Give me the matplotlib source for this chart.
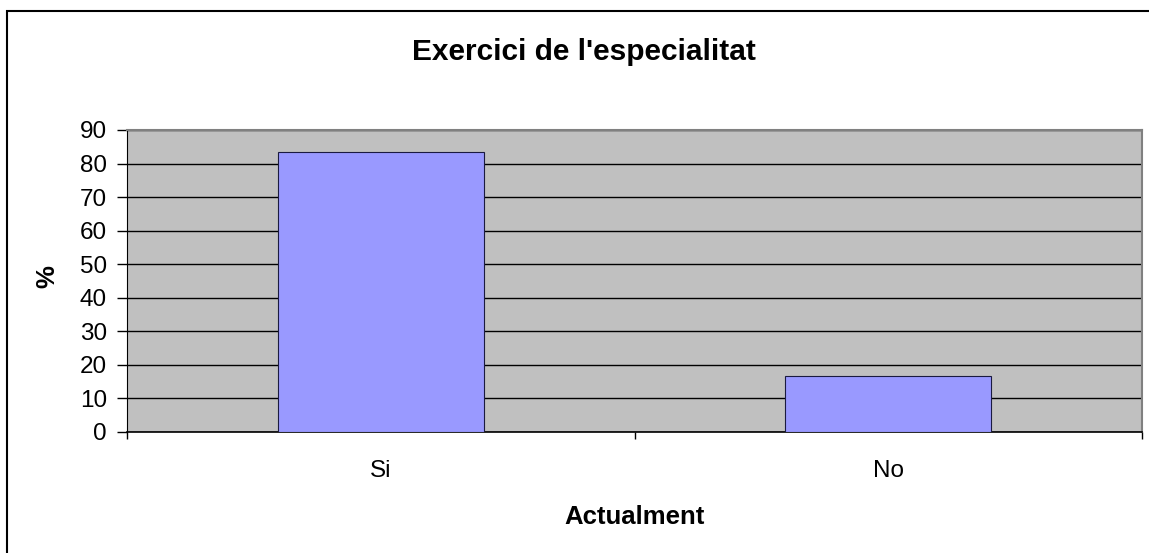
import matplotlib
matplotlib.use("Agg")
import matplotlib.pyplot as plt
from matplotlib.patches import Rectangle

categories = ["Si", "No"]
values = [83.3, 16.7]
yticks = [0, 10, 20, 30, 40, 50, 60, 70, 80, 90]

plt.rcParams['font.family'] = ['Liberation Sans', 'DejaVu Sans']

W, H = 1149, 553
fig = plt.figure(figsize=(W/100, H/100), dpi=100)

# figure border (extends past right/bottom edge)
fig.patches.append(Rectangle((7/W, -0.1), 1.2, (H-11)/H + 0.1, transform=fig.transFigure,
                             fill=False, edgecolor='black', linewidth=1.5))

L, R, T, B = 127, 1142, 130, 432
ax = fig.add_axes([L/W, (H-B)/H, (R-L)/W, (B-T)/H])
ax.set_facecolor('#C0C0C0')

x = list(range(len(categories)))
ax.bar(x, values, width=0.405, color='#9999FF', edgecolor='#1a1a40', linewidth=0.8, zorder=3)

ax.set_xlim(-0.5, len(categories) - 0.5)
ax.set_ylim(0, 90)
ax.set_yticks(yticks)
ax.set_yticklabels([str(v) for v in yticks], fontsize=17.5)
ax.yaxis.grid(True, color='black', linewidth=1.0, zorder=1)
ax.set_axisbelow(True)

ax.set_xticks(x)
ax.set_xticklabels(categories, fontsize=17.5)
ax.tick_params(axis='x', which='major', length=0, pad=20)
ax.set_xticks([-0.5, 0.5, 1.5], minor=True)
ax.tick_params(axis='x', which='minor', length=5, width=1, direction='out')
ax.tick_params(axis='y', length=7, width=1, direction='out', pad=7.5)

for s in ['top', 'right']:
    ax.spines[s].set_color('#808080')
    ax.spines[s].set_linewidth(1.5)
ax.spines['left'].set_color('black')
ax.spines['bottom'].set_color('black')
ax.spines['bottom'].set_linewidth(1.2)

ax.set_title("Exercici de l'especialitat", fontsize=21.5, fontweight='bold',
             y=(B - 60) / (B - T), va='center')
ax.title.set_x((584 - L) / (R - L))
ax.set_xlabel("Actualment", fontsize=18.5, fontweight='bold', va='center')
ax.xaxis.set_label_coords(0.5, (B - 517) / (B - T))
ax.set_ylabel("%", fontsize=18.5, fontweight='bold', va='center')
ax.yaxis.set_label_coords((47 - L) / (R - L), (B - 277) / (B - T))

fig.savefig("out.png", dpi=100)
